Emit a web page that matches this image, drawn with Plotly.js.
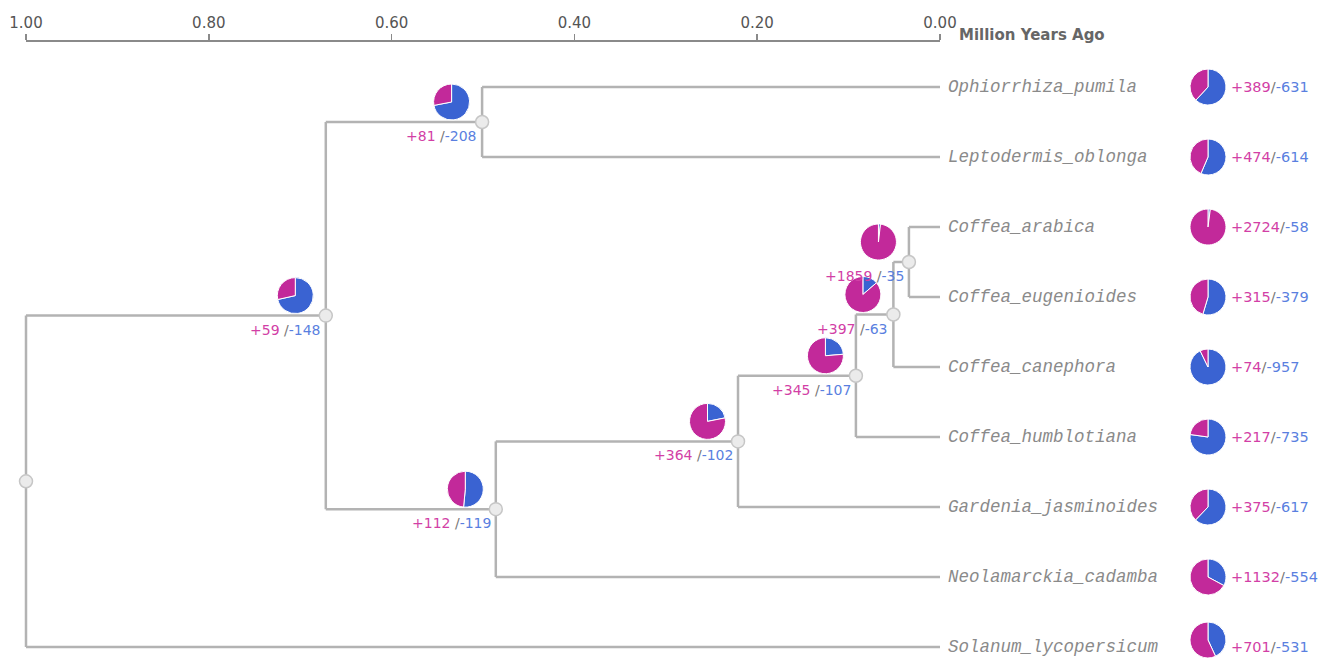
<!DOCTYPE html>
<html><head><meta charset="utf-8">
<script src="https://cdn.plot.ly/plotly-3.0.1.min.js"></script>
<style>html,body{margin:0;padding:0;background:#fff;}#chart{width:1324px;height:658px;}</style>
</head><body><div id="chart"></div>
<script>
// ---------- DATA ----------
const leaves = ['Ophiorrhiza_pumila','Leptodermis_oblonga','Coffea_arabica','Coffea_eugenioides',
  'Coffea_canephora','Coffea_humblotiana','Gardenia_jasminoides','Neolamarckia_cadamba','Solanum_lycopersicum'];
const leafGain = [389, 474, 2724, 315, 74, 217, 375, 1132, 701];
const leafLoss = [631, 614, 58, 379, 957, 735, 617, 554, 531];

const innerNodes = ['N0','N1','N2','N3','N4','N5','N6','N7'];
const innerAge = [1.00, 0.672, 0.501, 0.486, 0.221, 0.092, 0.051, 0.034];
const innerChildren = [
  ['N1','Solanum_lycopersicum'],
  ['N2','N3'],
  ['Ophiorrhiza_pumila','Leptodermis_oblonga'],
  ['N4','Neolamarckia_cadamba'],
  ['N5','Gardenia_jasminoides'],
  ['N6','Coffea_humblotiana'],
  ['N7','Coffea_canephora'],
  ['Coffea_arabica','Coffea_eugenioides']
];
const innerGain = [null, 59, 81, 112, 364, 345, 397, 1859];
const innerLoss = [null, 148, 208, 119, 102, 107, 63, 35];

const axisTicks = [1.0, 0.8, 0.6, 0.4, 0.2, 0.0];
const axisTitle = 'Million Years Ago';

// ---------- STYLE / LAYOUT ----------
const W = 1324, H = 658;
const xRange = [1 + 26/914, -(W - 940)/914];
const yRange = [(H - 87)/70, -87/70];
const GAIN_PIE = '#C2299A', LOSS_PIE = '#3A63D2';
const GAIN_TXT = '#D23FA6', LOSS_TXT = '#5A7FE0', SLASH = '#777';
const PIE_R = 18;
const LEAF_PIE_PX = 1208, LEAF_LABEL_PX = 1229;
const NODE_PIE_DX = -30.5, NODE_PIE_DY = -20;

function fx(v){ return (v - xRange[0])/(xRange[1]-xRange[0]); }
function fy(v){ return (v - yRange[0])/(yRange[1]-yRange[0]); }

// positions
const age = {}, ypos = {};
leaves.forEach((n,i)=>{ age[n]=0; ypos[n]=i; });
innerNodes.forEach((n,i)=>{ age[n]=innerAge[i]; });
for (let i = innerNodes.length-1; i >= 0; i--) {
  const ch = innerChildren[i];
  ypos[innerNodes[i]] = ch.reduce((s,c)=>s+ypos[c],0)/ch.length;
}

// edges
const ex = [], ey = [];
innerNodes.forEach((n,i)=>{
  const ch = innerChildren[i];
  const ys = ch.map(c=>ypos[c]);
  ex.push(age[n], age[n], null);
  ey.push(Math.min(...ys), Math.max(...ys), null);
  ch.forEach(c=>{ ex.push(age[n], age[c], null); ey.push(ypos[c], ypos[c], null); });
});

const traces = [];
traces.push({x: ex, y: ey, mode:'lines', line:{color:'#b3b3b3', width:2.5},
  hoverinfo:'skip', showlegend:false, cliponaxis:false});
traces.push({x: innerNodes.map(n=>age[n]), y: innerNodes.map(n=>ypos[n]), mode:'markers',
  marker:{size:13, color:'#ebebeb', line:{color:'#c6c6c6', width:1.5}},
  hoverinfo:'skip', showlegend:false, cliponaxis:false});
// dummy trace to carry the visible time axis
traces.push({x:[1,0], y:[null,null], xaxis:'x2', yaxis:'y', mode:'lines',
  hoverinfo:'skip', showlegend:false});

function pie(cxFrac, cyFrac, gain, loss){
  const rx = PIE_R/W, ry = PIE_R/H;
  const cy = Math.min(Math.max(cyFrac, ry), 1 - ry);
  return {type:'pie', values:[loss, gain], sort:false, direction:'clockwise', rotation:0,
    marker:{colors:[LOSS_PIE, GAIN_PIE], line:{color:'#ffffff', width:1}},
    textinfo:'none', hoverinfo:'skip', showlegend:false,
    domain:{x:[cxFrac-rx, cxFrac+rx], y:[cy-ry, cy+ry]}};
}

const annotations = [];
innerNodes.forEach((n,i)=>{
  if (innerGain[i] === null) return;
  traces.push(pie(fx(age[n]) + NODE_PIE_DX/W, fy(ypos[n]) - NODE_PIE_DY/H, innerGain[i], innerLoss[i]));
  annotations.push({x: age[n], y: ypos[n], xref:'x', yref:'y', xanchor:'right', yanchor:'middle',
    xshift:-3, yshift:-14, showarrow:false,
    text:'<span style="color:'+GAIN_TXT+'">+'+innerGain[i]+'</span> <span style="color:'+SLASH+'">/</span><span style="color:'+LOSS_TXT+'">-'+innerLoss[i]+'</span>',
    font:{family:'DejaVu Sans', size:14}});
});
leaves.forEach((n,i)=>{
  traces.push(pie(LEAF_PIE_PX/W, fy(ypos[n]), leafGain[i], leafLoss[i]));
  annotations.push({x: LEAF_LABEL_PX/W, y: ypos[n], xref:'paper', yref:'y', xanchor:'left', yanchor:'middle',
    showarrow:false,
    text:'<span style="color:'+GAIN_TXT+'">+'+leafGain[i]+'</span><span style="color:'+SLASH+'">/</span><span style="color:'+LOSS_TXT+'">-'+leafLoss[i]+'</span>',
    font:{family:'DejaVu Sans', size:14.5}});
  annotations.push({x: 0, y: ypos[n], xref:'x', yref:'y', xanchor:'left', yanchor:'middle',
    xshift:6, showarrow:false, text:'<i>'+n+'</i>',
    font:{family:'Liberation Mono, Courier New, monospace', size:17.5, color:'#8a8a8a'}});
});
annotations.push({x: 957/W, y: 1 - 35/H, xref:'paper', yref:'paper', xanchor:'left', yanchor:'middle',
  showarrow:false, text:'<b>'+axisTitle+'</b>', font:{family:'DejaVu Sans', size:15, color:'#666'}});

const layout = {
  width: W, height: H, margin:{l:0,r:0,t:0,b:0}, paper_bgcolor:'#fff', plot_bgcolor:'rgba(0,0,0,0)',
  xaxis:{range:xRange, visible:false, fixedrange:true},
  yaxis:{range:yRange, visible:false, fixedrange:true},
  xaxis2:{domain:[26/W, 940/W], range:[1,0], anchor:'free', position:1-40/H, side:'top',
    showline:true, linecolor:'#8a8a8a', linewidth:1.5, ticks:'outside', ticklen:6, tickwidth:1.5, tickcolor:'#8a8a8a',
    tickvals:axisTicks, tickformat:'.2f', tickfont:{family:'DejaVu Sans', size:15, color:'#555'},
    showgrid:false, zeroline:false, fixedrange:true},
  annotations: annotations,
  showlegend:false
};
Plotly.newPlot('chart', traces, layout, {displayModeBar:false, staticPlot:true});
</script></body></html>
